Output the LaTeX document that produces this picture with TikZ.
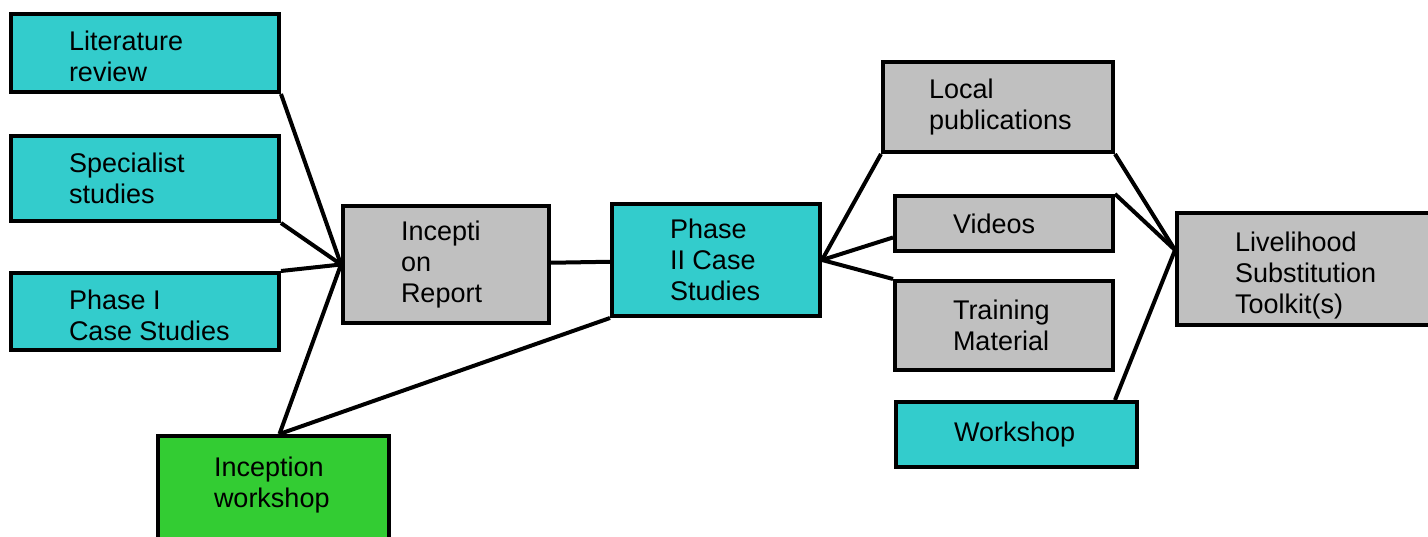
\documentclass[tikz,border=0pt]{standalone}
\usepackage{fontspec}
\setmainfont{Liberation Sans}

\begin{document}
\begin{tikzpicture}[x=1pt,y=-1pt,
  box/.style={draw=black,line width=4pt,anchor=north west,align=flush left,inner xsep=58pt,inner ysep=0pt,font=\fontsize{27}{31}\selectfont},
  link/.style={draw=black,line width=4pt}]
\definecolor{tealFill}{RGB}{51,204,204}
\definecolor{greyFill}{RGB}{192,192,192}
\definecolor{greenFill}{RGB}{51,204,51}
\path[use as bounding box,fill=white] (0,0) rectangle (1428,537);
\begin{scope}
\path[clip] (0,0) rectangle (1428,537);

\node[box,fill=tealFill,minimum width=268pt,minimum height=78pt,text width=152pt,text height=20pt,text depth=24pt] (lit) at (9,12) {Literature\\review};

\node[box,fill=tealFill,minimum width=268pt,minimum height=85pt,text width=152pt] (spec) at (9,134) {Specialist\\studies};

\node[box,fill=tealFill,minimum width=268pt,minimum height=77pt,text width=152pt,text height=20pt,text depth=23pt] (phaseone) at (9,271) {Phase~I\\\mbox{Case Studies}};

\node[box,fill=greyFill,minimum width=206pt,minimum height=117pt,text width=90pt] (report) at (341,204) {Incepti\\on\\Report};

\node[box,fill=tealFill,minimum width=208pt,minimum height=112pt,text width=92pt] (phasetwo) at (610,202) {Phase\\II~Case\\Studies};

\node[box,fill=greenFill,minimum width=231pt,minimum height=130pt,inner xsep=56pt,text width=119pt,text height=20pt,text depth=70pt] (kickoff) at (156,434) {Inception\\workshop};

\node[box,fill=greyFill,minimum width=230pt,minimum height=90pt,inner xsep=46pt,text width=138pt] (pubs) at (881,60) {Local\\publications};

\node[box,fill=greyFill,minimum width=218pt,minimum height=55pt,text width=102pt] (videos) at (893,194) {Videos};

\node[box,fill=greyFill,minimum width=218pt,minimum height=89pt,text width=102pt] (training) at (893,279) {Training\\Material};

\node[box,fill=tealFill,minimum width=241pt,minimum height=65pt,text width=125pt] (workshop) at (894,400) {Workshop};

\node[box,fill=greyFill,minimum width=261pt,minimum height=112pt,text width=145pt,text height=20pt,text depth=54pt] (toolkit) at (1175,211) {Livelihood\\Substitution\\Toolkit(s)};

\coordinate (hub) at ([yshift=19pt]toolkit.west);

\draw[link] (lit.south east) -- (report.west);
\draw[link] (spec.south east) -- (report.west);
\draw[link] (phaseone.north east) -- (report.west);
\draw[link] ([xshift=6pt]kickoff.north) -- (report.west);
\draw[link] ([xshift=6pt]kickoff.north) -- (phasetwo.south west);
\draw[link] (report) -- (phasetwo);

\draw[link] (phasetwo.east) -- (pubs.south west);
\draw[link] (phasetwo.east) -- ([yshift=-14pt]videos.west);
\draw[link] (phasetwo.east) -- (training.north west);

\draw[link] (pubs.south east) -- (hub);
\draw[link] (videos.north east) -- (hub);
\draw[link] (videos.east |- workshop.north) -- (hub);
\end{scope}
\end{tikzpicture}
\end{document}
